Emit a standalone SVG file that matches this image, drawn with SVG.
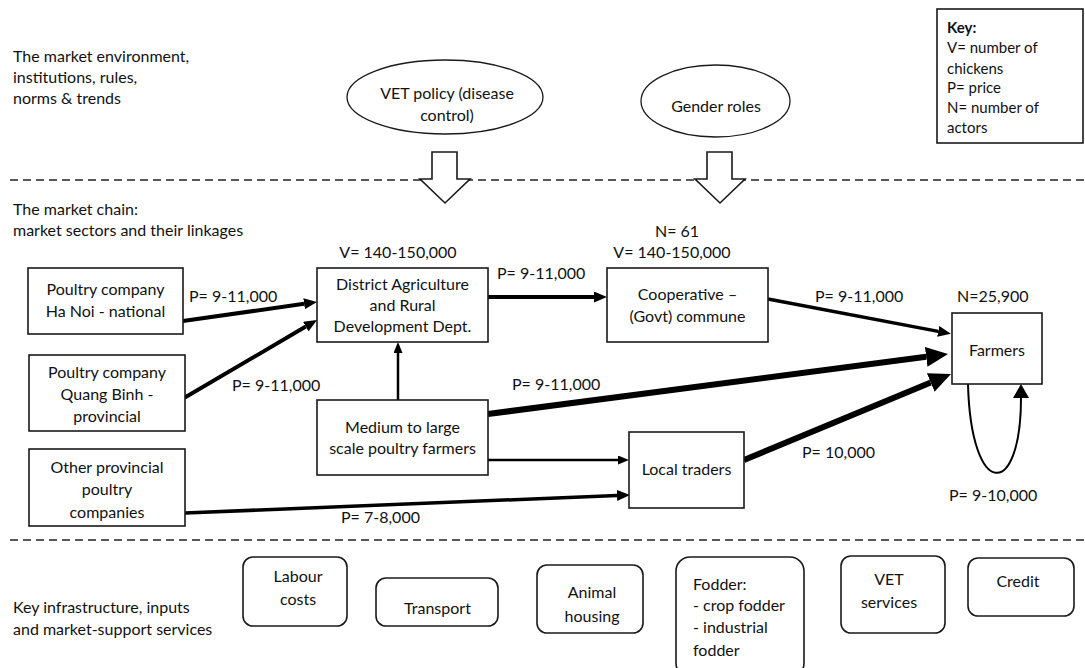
<svg xmlns="http://www.w3.org/2000/svg" width="1085" height="668" viewBox="0 0 1085 668">
<style>
text{font-family:Lato,"Open Sans","Liberation Sans",sans-serif;font-size:16px;fill:#111}
.c{text-anchor:middle}
.k{font-size:15px}
.box{fill:#fff;stroke:#1a1a1a;stroke-width:1.6}
.rbox{fill:#fff;stroke:#1a1a1a;stroke-width:1.6}
.ell{fill:#fff;stroke:#1a1a1a;stroke-width:1.3}
.dash{stroke:#222;stroke-width:1.5;stroke-dasharray:8 5;fill:none}
.hol{fill:#fff;stroke:#1a1a1a;stroke-width:1.6;stroke-linejoin:miter}
.ln{fill:none;stroke:#000}
</style>
<defs>
<marker id="as" markerUnits="userSpaceOnUse" viewBox="0 0 11 9" refX="0" refY="4.5" markerWidth="11" markerHeight="9" orient="auto"><path d="M0,0L11,4.5L0,9z" fill="#000"/></marker>
<marker id="am" markerUnits="userSpaceOnUse" viewBox="0 0 13 11" refX="0" refY="5.5" markerWidth="13" markerHeight="11" orient="auto"><path d="M0,0L13,5.5L0,11z" fill="#000"/></marker>
<marker id="al" markerUnits="userSpaceOnUse" viewBox="0 0 22 20" refX="0" refY="10" markerWidth="22" markerHeight="20" orient="auto"><path d="M0,0L22,10L0,20z" fill="#000"/></marker>
<marker id="ao" markerUnits="userSpaceOnUse" viewBox="0 0 14 16" refX="0" refY="8" markerWidth="14" markerHeight="16" orient="auto"><path d="M0,0L14,8L0,16z" fill="#000"/></marker>
</defs>

<g id="section-labels">
<text x="13" y="62">The market environment,</text>
<text x="13" y="83">institutions, rules,</text>
<text x="13" y="104">norms &amp; trends</text>
<text x="13" y="215">The market chain:</text>
<text x="13" y="236">market sectors and their linkages</text>
<text x="13" y="613">Key infrastructure, inputs</text>
<text x="13" y="635">and market-support services</text>
</g>

<g id="dividers">
<line class="dash" x1="10" y1="180" x2="1085" y2="180"/>
<line class="dash" x1="10" y1="540" x2="1085" y2="540"/>
</g>

<g id="key">
<rect class="box" x="937" y="9" width="146" height="134"/>
<text class="k" x="947" y="33" font-weight="bold">Key:</text>
<text class="k" x="947" y="53">V= number of</text>
<text class="k" x="947" y="74">chickens</text>
<text class="k" x="947" y="93">P= price</text>
<text class="k" x="947" y="113">N= number of</text>
<text class="k" x="947" y="133">actors</text>
</g>

<g id="vet-policy">
<ellipse class="ell" cx="445" cy="97" rx="98" ry="37"/>
<text class="c" x="447" y="99">VET policy (disease</text>
<text class="c" x="447" y="121">control)</text>
<polygon class="hol" points="432,152 457,152 457,179 470,179 445,203 420,179 432,179"/>
</g>

<g id="gender-roles">
<ellipse class="ell" cx="715.5" cy="101" rx="74.5" ry="36"/>
<text class="c" x="716" y="112">Gender roles</text>
<polygon class="hol" points="707,152 732,152 732,179 745,179 720,203 695,179 707,179"/>
</g>

<g id="connectors">
<line class="ln" stroke-width="4" x1="183" y1="321" x2="304.1" y2="303.8" marker-end="url(#am)"/>
<line class="ln" stroke-width="4" x1="184" y1="398" x2="305.8" y2="326.6" marker-end="url(#am)"/>
<line class="ln" stroke-width="4" x1="488" y1="297" x2="594" y2="297" marker-end="url(#am)"/>
<line class="ln" stroke-width="2.5" x1="398" y1="400" x2="398" y2="353" marker-end="url(#as)"/>
<line class="ln" stroke-width="3.5" x1="768" y1="299" x2="938.2" y2="331.4" marker-end="url(#am)"/>
<line class="ln" stroke-width="6" x1="488" y1="414" x2="926.2" y2="356.8" marker-end="url(#al)"/>
<line class="ln" stroke-width="2.5" x1="488" y1="460" x2="618" y2="460" marker-end="url(#as)"/>
<line class="ln" stroke-width="3.5" x1="185" y1="513" x2="617" y2="495.5" marker-end="url(#am)"/>
<line class="ln" stroke-width="6" x1="744" y1="460" x2="930.7" y2="382.4" marker-end="url(#al)"/>
<path class="ln" stroke-width="2" d="M968,384 C971,500 1021,500 1021,398" marker-end="url(#ao)"/>
</g>

<g id="connector-labels">
<text x="189" y="302">P= 9-11,000</text>
<text x="232" y="391">P= 9-11,000</text>
<text x="497" y="279">P= 9-11,000</text>
<text x="815" y="302">P= 9-11,000</text>
<text x="512" y="390">P= 9-11,000</text>
<text x="341" y="523">P= 7-8,000</text>
<text x="802" y="458">P= 10,000</text>
<text x="949" y="501">P= 9-10,000</text>
</g>

<g id="poultry-hanoi">
<rect class="box" x="28" y="268" width="155" height="66"/>
<text class="c" x="105.5" y="295">Poultry company</text>
<text class="c" x="105.5" y="317">Ha Noi - national</text>
</g>

<g id="poultry-quangbinh">
<rect class="box" x="29" y="355" width="156" height="76"/>
<text class="c" x="107" y="378">Poultry company</text>
<text class="c" x="107" y="400">Quang Binh -</text>
<text class="c" x="107" y="422">provincial</text>
</g>

<g id="other-provincial">
<rect class="box" x="29" y="449" width="156" height="77"/>
<text class="c" x="107" y="473">Other provincial</text>
<text class="c" x="107" y="495">poultry</text>
<text class="c" x="107" y="518">companies</text>
</g>

<g id="district-dept">
<text class="c" x="398" y="258">V= 140-150,000</text>
<rect class="box" x="317" y="268" width="171" height="74"/>
<text class="c" x="402.5" y="290">District Agriculture</text>
<text class="c" x="402.5" y="311">and Rural</text>
<text class="c" x="402.5" y="332">Development Dept.</text>
</g>

<g id="cooperative">
<text class="c" x="677" y="237">N= 61</text>
<text class="c" x="672" y="258">V= 140-150,000</text>
<rect class="box" x="607" y="268" width="161" height="74"/>
<text class="c" x="687.5" y="300">Cooperative –</text>
<text class="c" x="687.5" y="322">(Govt) commune</text>
</g>

<g id="farmers">
<text x="957" y="302">N=25,900</text>
<rect class="box" x="952" y="313" width="90" height="71"/>
<text class="c" x="997" y="356">Farmers</text>
</g>

<g id="medium-large">
<rect class="box" x="317" y="400" width="171" height="75"/>
<text class="c" x="402.5" y="433">Medium to large</text>
<text class="c" x="402.5" y="454">scale poultry farmers</text>
</g>

<g id="local-traders">
<rect class="box" x="629" y="432" width="115" height="76"/>
<text class="c" x="686.5" y="475">Local traders</text>
</g>

<g id="labour-costs">
<rect class="rbox" x="243" y="557" width="104" height="69" rx="10"/>
<text class="c" x="298" y="582">Labour</text>
<text class="c" x="298" y="605">costs</text>
</g>

<g id="transport">
<rect class="rbox" x="376" y="578" width="122" height="48" rx="10"/>
<text class="c" x="437.5" y="614">Transport</text>
</g>

<g id="animal-housing">
<rect class="rbox" x="537" y="565" width="106" height="68" rx="10"/>
<text class="c" x="592" y="598">Animal</text>
<text class="c" x="592" y="622">housing</text>
</g>

<g id="fodder">
<rect class="rbox" x="676" y="557" width="128" height="120" rx="14"/>
<text x="693" y="590">Fodder:</text>
<text x="693" y="611">- crop fodder</text>
<text x="693" y="633">- industrial</text>
<text x="693" y="656">fodder</text>
</g>

<g id="vet-services">
<rect class="rbox" x="841" y="556" width="104" height="77" rx="10"/>
<text class="c" x="889" y="585">VET</text>
<text class="c" x="889" y="608">services</text>
</g>

<g id="credit">
<rect class="rbox" x="968" y="558" width="106" height="58" rx="10"/>
<text class="c" x="1018" y="587">Credit</text>
</g>
</svg>
